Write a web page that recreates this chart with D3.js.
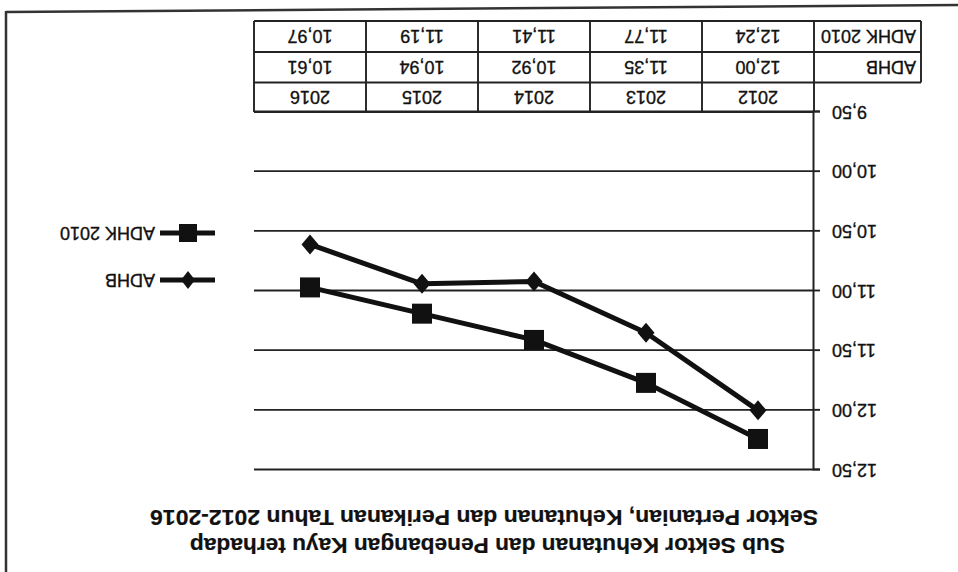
<!DOCTYPE html>
<html>
<head>
<meta charset="utf-8">
<script src="https://cdn.jsdelivr.net/npm/d3@7/dist/d3.min.js"></script>
<style>
  html, body { margin: 0; padding: 0; background: #fff; }
  svg { display: block; }
  text { font-family: "Liberation Sans", Arial, sans-serif; fill: #111; stroke: #111; stroke-width: 0.35px; }
  text.title { stroke-width: 0.2px; }
</style>
</head>
<body>
<svg id="chart" width="958" height="572"></svg>
<script>
// ---- data ----
const years = ["2012", "2013", "2014", "2015", "2016"];
const adhb = [12.00, 11.35, 10.92, 10.94, 10.61];
const adhk2010 = [12.24, 11.77, 11.41, 11.19, 10.97];
const seriesNames = ["ADHB", "ADHK 2010"];
const yTicks = [9.5, 10, 10.5, 11, 11.5, 12, 12.5];
const titleLines = [
  "Sub Sektor Kehutanan dan Penebangan Kayu terhadap",
  "Sektor Pertanian, Kehutanan dan Perikanan Tahun 2012-2016"
];

const W = 958, H = 572;
const svg = d3.select("#chart");
svg.append("rect").attr("width", W).attr("height", H).attr("fill", "#fff");

// the reference is a scan printed upside down: draw upright, then rotate 180°
const g = svg.append("g").attr("transform", `rotate(180 ${W / 2} ${H / 2})`);

const plotL = 144, plotR = 704, plotT = 102, plotB = 460;
const x = d3.scaleBand().domain(years).range([plotL, plotR]);
const y = d3.scaleLinear().domain([9.5, 12.5]).range([plotB, plotT]);
const fmt = v => d3.format(".2f")(v).replace(".", ",");

// frame (scan page edge)
g.append("line").attr("x1", 952).attr("y1", 0).attr("x2", 952).attr("y2", 561)
  .attr("stroke", "#333").attr("stroke-width", 2.5);
g.append("line").attr("x1", 952).attr("y1", 560).attr("x2", 0).attr("y2", 567)
  .attr("stroke", "#333").attr("stroke-width", 2.5);

// title
g.selectAll("text.title").data(titleLines).enter().append("text")
  .attr("class", "title")
  .attr("x", (d, i) => i === 0 ? 173 : 140)
  .attr("y", (d, i) => i === 0 ? 26 : 54)
  .attr("dy", "0.36em")
  .attr("textLength", (d, i) => i === 0 ? 595 : 668)
  .attr("lengthAdjust", "spacingAndGlyphs")
  .style("font-size", "22.5px").style("font-weight", "bold")
  .text(d => d);

// gridlines
const grid = g.append("g").attr("transform", `translate(${plotL},0)`)
  .call(d3.axisLeft(y).tickValues(yTicks).tickSize(-(plotR - plotL)).tickFormat(""));
grid.select(".domain").remove();
grid.selectAll(".tick line").attr("stroke", "#222").attr("stroke-width", 1.9);

// y axis
const yAxis = g.append("g").attr("transform", `translate(${plotL},0)`)
  .call(d3.axisLeft(y).tickValues(yTicks).tickSize(6).tickPadding(12).tickFormat(fmt));
yAxis.select(".domain").attr("stroke", "#222").attr("stroke-width", 2);
yAxis.selectAll(".tick line").attr("stroke", "#222").attr("stroke-width", 1.9);
yAxis.selectAll(".tick text").style("font-size", "18px")
  .style("font-family", "'Liberation Sans', Arial, sans-serif").attr("fill", "#111");

// series lines & markers
const line = d3.line().x((d, i) => x(years[i]) + x.bandwidth() / 2).y(d => y(d));
[adhb, adhk2010].forEach(vals => {
  g.append("path").datum(vals).attr("d", line)
    .attr("fill", "none").attr("stroke", "#111").attr("stroke-width", 5)
    .attr("stroke-linejoin", "round");
});
const diamond = (cx, cy, w, h) => `M${cx},${cy - h / 2}L${cx + w / 2},${cy}L${cx},${cy + h / 2}L${cx - w / 2},${cy}Z`;
g.selectAll("path.dia").data(adhb).enter().append("path").attr("class", "dia")
  .attr("d", (d, i) => diamond(x(years[i]) + x.bandwidth() / 2, y(d), 17, 20))
  .attr("fill", "#111");
g.selectAll("rect.sq").data(adhk2010).enter().append("rect").attr("class", "sq")
  .attr("x", (d, i) => x(years[i]) + x.bandwidth() / 2 - 10)
  .attr("y", d => y(d) - 10)
  .attr("width", 20).attr("height", 20).attr("fill", "#111");

// data table
const rowY = [460, 489.5, 520, 551];
const tbl = g.append("g").attr("stroke", "#222").attr("stroke-width", 1.9);
tbl.append("line").attr("x1", plotL).attr("x2", plotR).attr("y1", rowY[0]).attr("y2", rowY[0]);
[1, 2, 3].forEach(r => {
  tbl.append("line").attr("x1", 37).attr("x2", plotR).attr("y1", rowY[r]).attr("y2", rowY[r]);
});
years.forEach(yr => {
  tbl.append("line").attr("x1", x(yr)).attr("x2", x(yr)).attr("y1", rowY[0]).attr("y2", rowY[3]);
});
tbl.append("line").attr("x1", plotR).attr("x2", plotR).attr("y1", rowY[0]).attr("y2", rowY[3]);
tbl.append("line").attr("x1", 37).attr("x2", 37).attr("y1", rowY[1]).attr("y2", rowY[3]);

const rows = [years, adhb.map(fmt), adhk2010.map(fmt)];
rows.forEach((vals, r) => {
  g.selectAll(null).data(vals).enter().append("text")
    .attr("x", (d, i) => x(years[i]) + x.bandwidth() / 2)
    .attr("y", (rowY[r] + rowY[r + 1]) / 2)
    .attr("dy", "0.36em").attr("text-anchor", "middle")
    .style("font-size", "18px").text(d => d);
});
seriesNames.forEach((nm, r) => {
  g.append("text").attr("x", 42).attr("y", (rowY[r + 1] + rowY[r + 2]) / 2)
    .attr("dy", "0.36em").style("font-size", "18px").text(nm);
});

// legend
const legY = [292, 339];
seriesNames.forEach((nm, i) => {
  g.append("line").attr("x1", 743).attr("x2", 798).attr("y1", legY[i]).attr("y2", legY[i])
    .attr("stroke", "#111").attr("stroke-width", 5);
  if (i === 0) {
    g.append("path").attr("d", diamond(770, legY[i], 14, 18)).attr("fill", "#111");
  } else {
    g.append("rect").attr("x", 761).attr("y", legY[i] - 9).attr("width", 18).attr("height", 18).attr("fill", "#111");
  }
  g.append("text").attr("x", 803).attr("y", legY[i]).attr("dy", "0.36em")
    .style("font-size", "18px").text(nm);
});
</script>
</body>
</html>
